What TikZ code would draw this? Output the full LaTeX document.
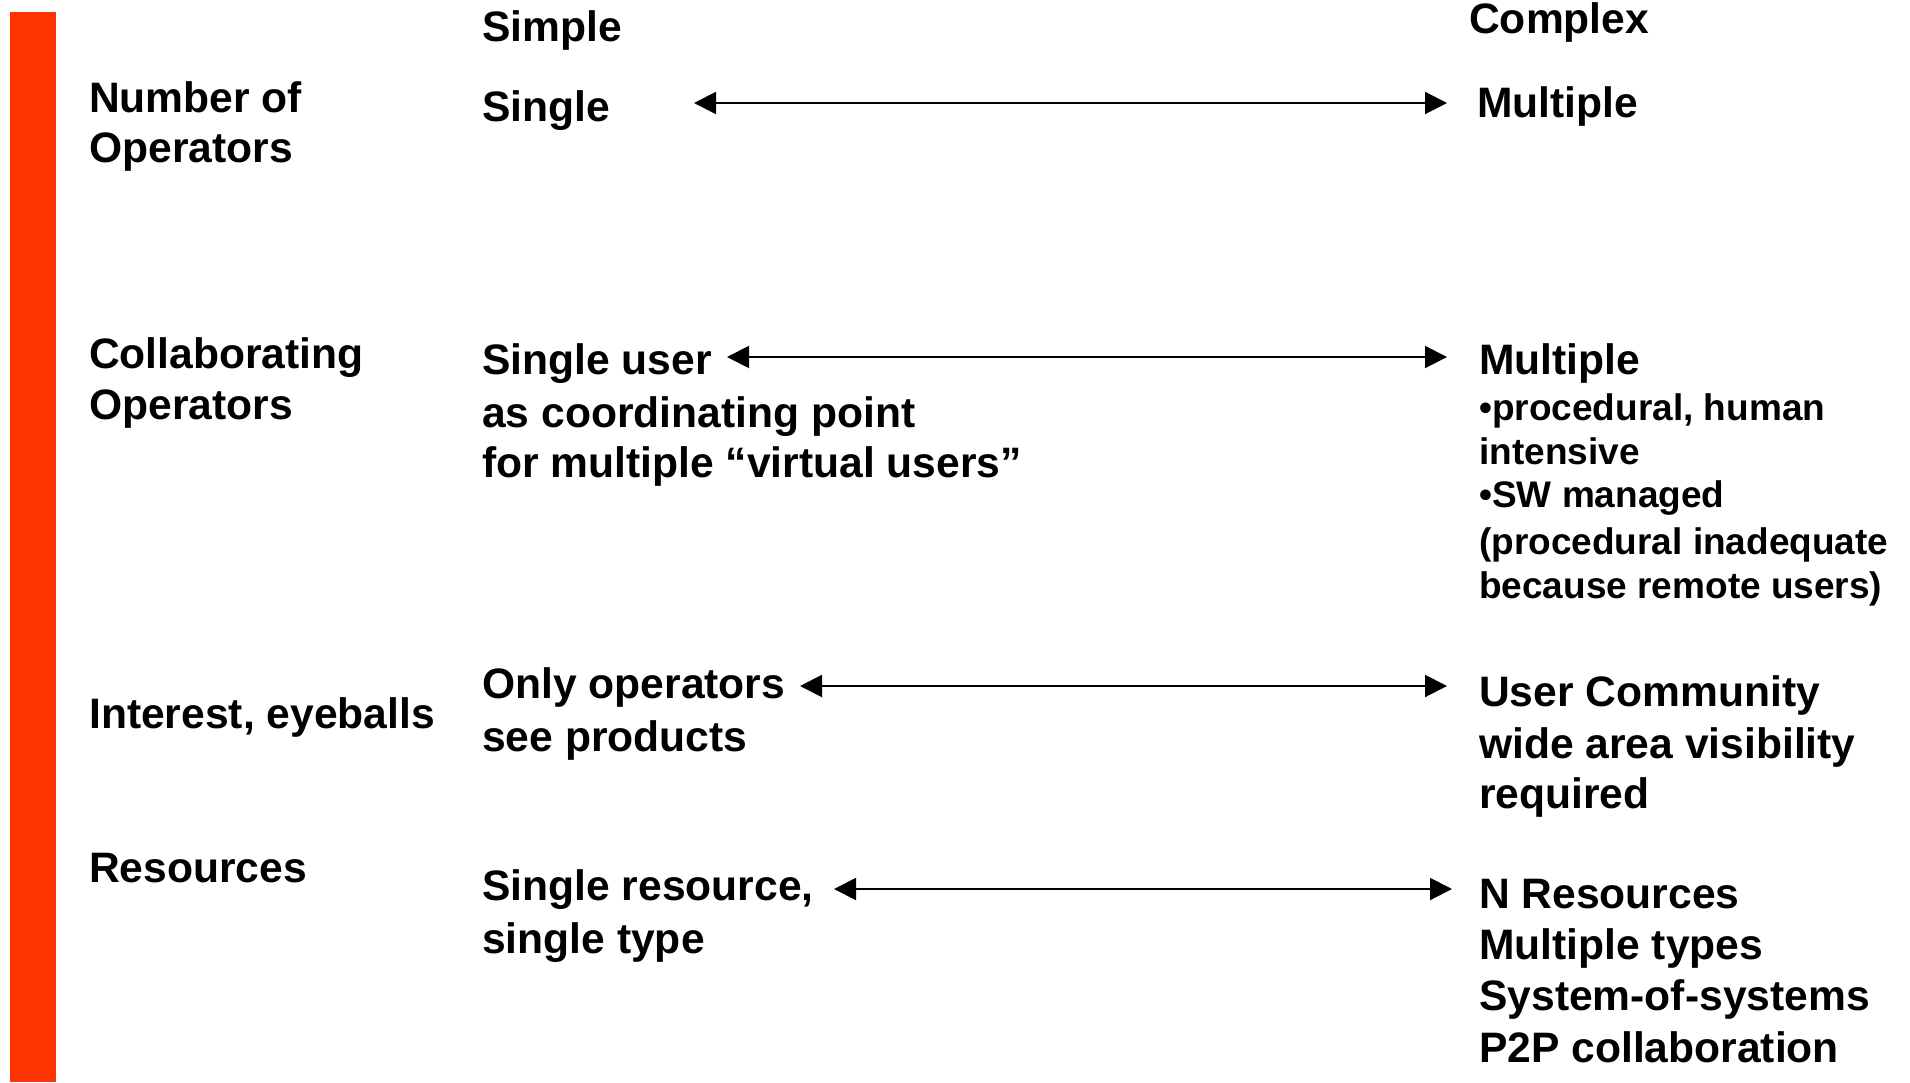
\documentclass[tikz,border=0pt]{standalone}
\usepackage{fontspec}
\setmainfont{Liberation Sans}
\usetikzlibrary{arrows.meta}
\definecolor{barred}{RGB}{255,51,0}
\tikzset{
  lbl/.style={anchor=base west, inner sep=0pt, font=\fontsize{42.6}{50}\selectfont\bfseries},
  sub/.style={anchor=base west, inner sep=0pt, font=\fontsize{37}{44}\selectfont\bfseries},
  span/.style={line width=2pt, {Triangle[length=22pt,width=22pt]}-{Triangle[length=22pt,width=22pt]}}
}
\begin{document}
\begin{tikzpicture}[x=1pt,y=-1pt]
\useasboundingbox (0,0) rectangle (1910,1082);
\fill[barred] (10,12) rectangle (56,1082);
% headers
\node[lbl] (simple) at (482,41) {Simple};
\node[lbl] (complex) at (1469,33) {Complex};
% row 1
\node[lbl] (r1a) at (89,112) {Number of};
\node[lbl] (r1b) at (89,162) {Operators};
\node[lbl] (s1) at (482,121) {Single};
\node[lbl] (c1) at (1477,117) {Multiple};
\coordinate (a1l) at (694,103);
\coordinate (a1r) at (1447,103);
\draw[span] (a1l) -- (a1r);
% row 2
\node[lbl] (r2a) at (89,368) {Collaborating};
\node[lbl] (r2b) at (89,419) {Operators};
\node[lbl] (s2a) at (482,374) {Single user};
\node[lbl] (s2b) at (482,427) {as coordinating point};
\node[lbl] (s2c) at (482,477) {for multiple “virtual users”};
\node[lbl] (c2a) at (1479,374) {Multiple};
\node[sub] (c2b) at (1479,420) {•procedural, human};
\node[sub] (c2c) at (1479,464) {intensive};
\node[sub] (c2d) at (1479,507) {•SW managed};
\node[sub] (c2e) at (1479,554) {(procedural inadequate};
\node[sub] (c2f) at (1479,598) {because remote users)};
\coordinate (a2l) at (727,357);
\coordinate (a2r) at (1447,357);
\draw[span] (a2l) -- (a2r);
% row 3
\node[lbl] (r3) at (89,728) {Interest, eyeballs};
\node[lbl] (s3a) at (482,698) {Only operators};
\node[lbl] (s3b) at (482,751) {see products};
\node[lbl] (c3a) at (1479,706) {User Community};
\node[lbl] (c3b) at (1479,758) {wide area visibility};
\node[lbl] (c3c) at (1479,808) {required};
\coordinate (a3l) at (800,686);
\coordinate (a3r) at (1447,686);
\draw[span] (a3l) -- (a3r);
% row 4
\node[lbl] (r4) at (89,882) {Resources};
\node[lbl] (s4a) at (482,900) {Single resource,};
\node[lbl] (s4b) at (482,953) {single type};
\node[lbl] (c4a) at (1479,908) {N Resources};
\node[lbl] (c4b) at (1479,959) {Multiple types};
\node[lbl] (c4c) at (1479,1010) {System-of-systems};
\node[lbl] (c4d) at (1479,1062) {P2P collaboration};
\coordinate (a4l) at (834,889);
\coordinate (a4r) at (1452,889);
\draw[span] (a4l) -- (a4r);
\end{tikzpicture}
\end{document}
